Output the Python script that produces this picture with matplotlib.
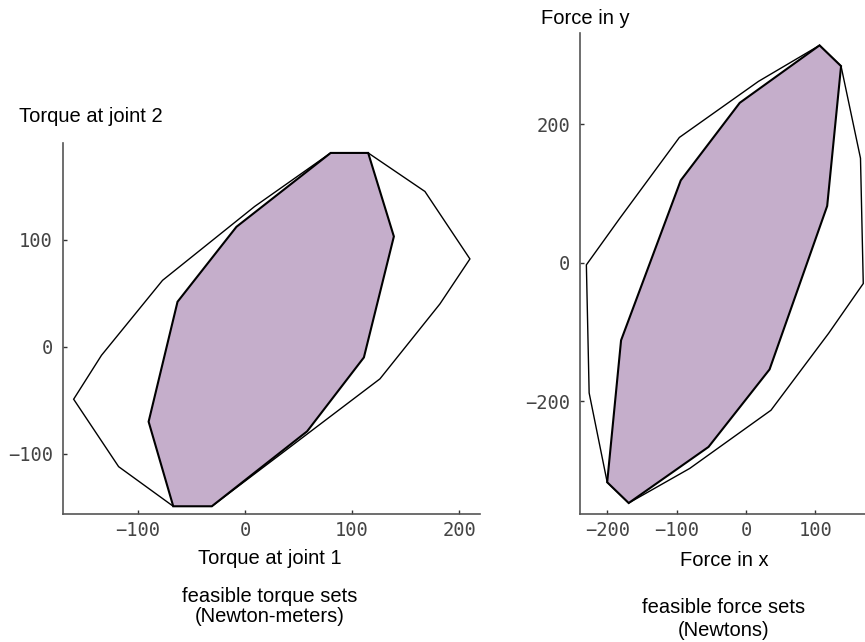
import matplotlib
matplotlib.use("Agg")
import matplotlib.pyplot as plt
from matplotlib.patches import Polygon

# torque space (Newton-meters): outer hull and feasible set
torque_outer_x = [-160, -134, -77, 9, 80, 115, 168, 210, 182, 126, 39, -31, -67, -118]
torque_outer_y = [-49, -8, 62, 131, 181, 181, 145, 82, 40, -30, -96, -149, -149, -112]
torque_inner_x = [-67, -90, -63, -8, 80, 115, 139, 111, 58, -31]
torque_inner_y = [-149, -70, 42, 112, 181, 181, 103, -10, -79, -149]

# force space (Newtons)
force_outer_x = [-230, -226, -200, -169, -81, 36, 119, 169, 165, 137, 106, 18, -96, -182]
force_outer_y = [-3, -188, -317, -347, -297, -213, -102, -30, 151, 284, 314, 262, 181, 64]
force_inner_x = [-169, -200, -180, -94, -9, 106, 137, 117, 34, -54]
force_inner_y = [-347, -317, -112, 119, 231, 314, 284, 82, -154, -266]

torque_ticks_x = [-100, 0, 100, 200]
torque_ticks_y = [-100, 0, 100]
force_ticks_x = [-200, -100, 0, 100]
force_ticks_y = [-200, 0, 200]

FILL = "#c5aecb"
SANS = "Liberation Sans"
MONO = "DejaVu Sans Mono"

fig = plt.figure(figsize=(8.65, 6.42), dpi=100)


def draw_panel(ax, ox, oy, ix, iy, xt, yt, xlim, ylim):
    ax.add_patch(Polygon(list(zip(ox, oy)), closed=True, facecolor="white",
                         edgecolor="black", linewidth=1.0, zorder=1))
    ax.add_patch(Polygon(list(zip(ix, iy)), closed=True, facecolor=FILL,
                         edgecolor="black", linewidth=1.5, zorder=2))
    ax.set_xlim(*xlim)
    ax.set_ylim(*ylim)
    ax.set_xticks(xt)
    ax.set_yticks(yt)
    for s in ["top", "right"]:
        ax.spines[s].set_visible(False)
    for s in ["left", "bottom"]:
        ax.spines[s].set_color("#555555")
        ax.spines[s].set_linewidth(1.2)
    ax.tick_params(direction="in", length=3, width=1, color="#333333",
                   labelcolor="#444444", labelsize=13.5)
    ax.tick_params(axis="x", pad=5)
    ax.tick_params(axis="y", pad=7)
    for lab in ax.get_xticklabels() + ax.get_yticklabels():
        lab.set_fontfamily(MONO)


ax1 = fig.add_axes([0.0725, 0.1989, 0.4824, 0.5779])
draw_panel(ax1, torque_outer_x, torque_outer_y, torque_inner_x, torque_inner_y,
           torque_ticks_x, torque_ticks_y, (-170.2, 219.4), (-156.5, 190))

ax2 = fig.add_axes([0.6705, 0.1989, 0.3295, 0.7491])
draw_panel(ax2, force_outer_x, force_outer_y, force_inner_x, force_inner_y,
           force_ticks_x, force_ticks_y, (-239.2, 171.5), (-363.3, 331.3))

# labels, placed by baseline in figure pixels
def ftext(x, y, s, **kw):
    fig.text(x / 865, 1 - y / 642, s, family=SANS, fontsize=14.5, color="black",
             va="baseline", **kw)

ftext(19, 121.5, "Torque at joint 2", ha="left")
ftext(270, 564.5, "Torque at joint 1", ha="center")
ftext(270, 601.5, "feasible torque sets", ha="center")
ftext(270, 621.5, "(Newton-meters)", ha="center")

ftext(541, 23.5, "Force in y", ha="left")
ftext(724, 566.5, "Force in x", ha="center")
ftext(724, 613, "feasible force sets", ha="center")
ftext(724, 636.5, "(Newtons)", ha="center")

fig.savefig("out.png", dpi=100)
